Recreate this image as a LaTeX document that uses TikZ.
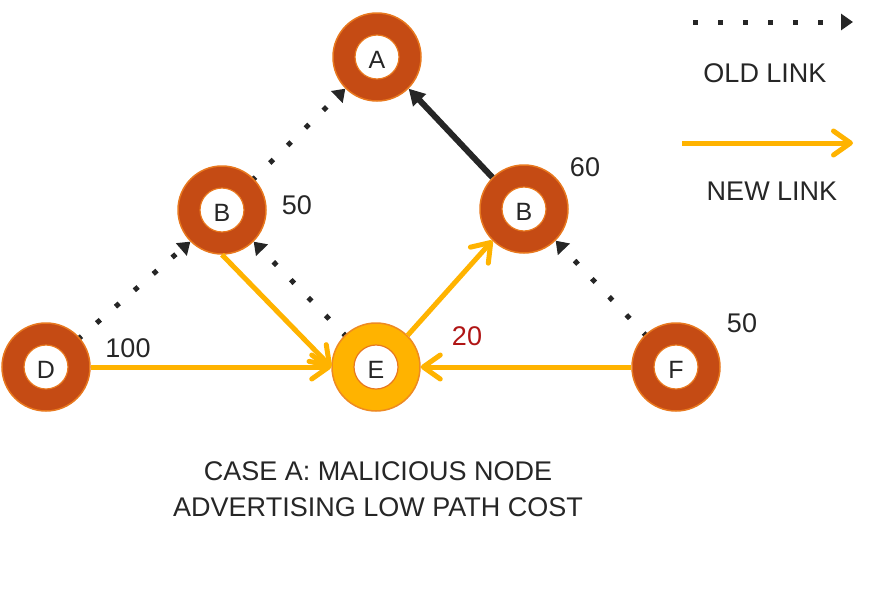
\documentclass[tikz,border=0pt]{standalone}
\usepackage{fontspec}
\setmainfont{Liberation Sans}
\usetikzlibrary{arrows.meta,backgrounds}
\definecolor{rust}{HTML}{C54B14}
\definecolor{rustedge}{HTML}{E8781E}
\definecolor{gold}{HTML}{FFB300}
\definecolor{goldedge}{HTML}{EE8A22}
\definecolor{ink}{HTML}{262626}
\definecolor{costred}{HTML}{B01515}
\begin{document}
\begin{tikzpicture}[x=1pt,y=-1pt,
  ring/.style={circle,fill=rust,draw=rustedge,line width=1.5pt,minimum size=88pt,inner sep=0pt},
  goldring/.style={ring,fill=gold,draw=goldedge},
  hole/.style={circle,fill=white,draw=rustedge,line width=1.2pt,minimum size=44pt,inner sep=0pt},
  letter/.style={inner sep=0pt,text=ink,font=\fontsize{25}{30}\selectfont},
  txt/.style={inner sep=0pt,text=ink,font=\fontsize{27}{36}\selectfont,align=center},
  oldlink/.style={ink,line width=5pt,dash pattern=on 5pt off 20pt,-{Triangle[length=12pt,width=16pt]}},
  newlink/.style={gold,line width=5pt,-{Straight Barb[length=17pt,width=24pt,line cap=round,line join=round]}},
  strong/.style={ink,line width=6pt,-{Triangle[length=16pt,width=17pt]}}]
\useasboundingbox (0,0) rectangle (876,608);
% nodes
\node[ring] (A) at (377,57) {};
\node[ring] (BL) at (222,210) {};
\node[ring] (BR) at (524,209) {};
\node[ring] (D) at (46,367) {};
\node[goldring] (E) at (376,367) {};
\node[ring] (F) at (676,367) {};
\foreach \n/\t in {A/A,BL/B,BR/B,D/D,E/E,F/F}{
  \node[hole] (\n h) at (\n) {};
  \node[letter] (\n t) at ([yshift=-3pt]\n.center) {\t};
}
% edges behind nodes
\begin{scope}[on background layer]
  \draw[oldlink,dash phase=8pt] (D.center) -- (BL.south west);
  \draw[oldlink,dash phase=8pt] (E.center) -- (BL.south east);
  \draw[oldlink,dash phase=8pt] (BL.center) -- (A.south west);
  \draw[oldlink,dash phase=8pt] (F.center) -- (BR.south east);
\end{scope}
\draw[strong] (BR.north west) -- (A.south east);
\draw[newlink] (BL.south) -- (E.west);
\draw[newlink] (D.east) -- (E.west);
\draw[newlink] (E.north east) -- (BR.south west);
\draw[newlink] (F.west) -- (E.east);
% cost labels
\node[txt] (c1) at (297,205) {50};
\node[txt] (c2) at (585,167) {60};
\node[txt] (c3) at (128,348) {100};
\node[txt,text=costred] (c4) at (467,336) {20};
\node[txt] (c5) at (742,323) {50};
% legend
\coordinate (l1s) at (693,22);
\coordinate (l1e) at (853,22);
\coordinate (l2s) at (682,143);
\coordinate (l2e) at (853,143);
\draw[oldlink] (l1s) -- (l1e);
\draw[newlink] (l2s) -- (l2e);
\node[txt] (oldt) at (765,73) {OLD LINK};
\node[txt] (newt) at (772,191) {NEW LINK};
% caption
\node[txt] (cap) at (378,489) {CASE A: MALICIOUS NODE\\ADVERTISING LOW PATH COST};
\end{tikzpicture}
\end{document}
